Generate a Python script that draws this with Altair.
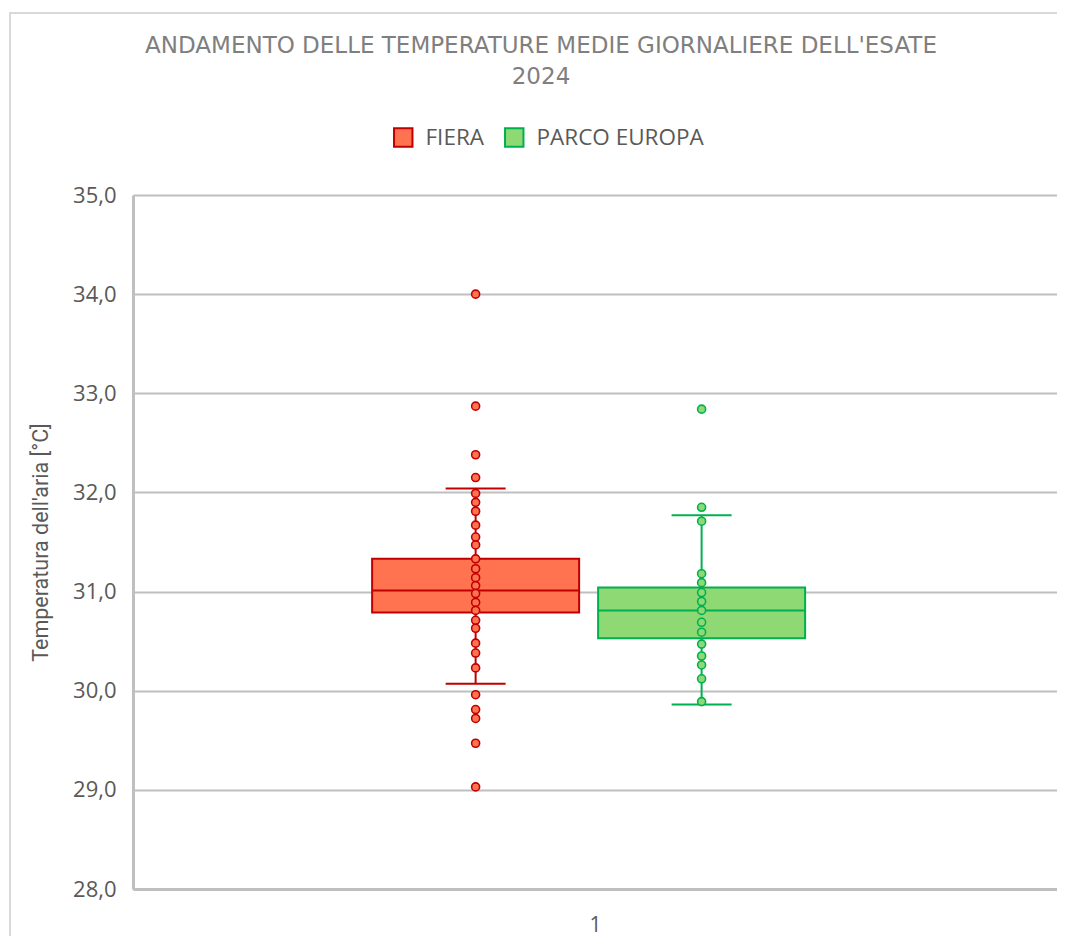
import altair as alt
import pandas as pd

# ---- data ----
series = ["FIERA", "PARCO EUROPA"]
fill_colors = ["#FF7350", "#8ED973"]
stroke_colors = ["#C00000", "#00B050"]

q1 = [30.79, 30.53]
median = [31.01, 30.81]
q3 = [31.33, 31.04]
whisker_low = [30.07, 29.86]
whisker_high = [32.04, 31.77]

fiera_points = [34.00, 32.87, 32.38, 32.15, 31.99, 31.90, 31.81, 31.67, 31.55,
                31.47, 31.33, 31.23, 31.14, 31.06, 30.98, 30.89, 30.81, 30.71,
                30.63, 30.48, 30.38, 30.23, 29.96, 29.81, 29.72, 29.47, 29.03]
parco_points = [32.84, 31.85, 31.71, 31.18, 31.09, 30.99, 30.90, 30.81, 30.69,
                30.59, 30.47, 30.35, 30.26, 30.12, 29.89]

category = "1"
y_ticks = [28, 29, 30, 31, 32, 33, 34, 35]

stats = pd.DataFrame({
    "cat": [category] * 2,
    "series": series,
    "q1": q1, "median": median, "q3": q3,
    "wlo": whisker_low, "whi": whisker_high,
})
pts = pd.DataFrame({
    "cat": [category] * (len(fiera_points) + len(parco_points)),
    "series": ["FIERA"] * len(fiera_points) + ["PARCO EUROPA"] * len(parco_points),
    "value": fiera_points + parco_points,
})

W, H = 924, 694
BOX_W = 207

x_enc = alt.X("cat:N", scale=alt.Scale(domain=[category], paddingInner=0,
                                        paddingOuter=0.567, align=0.487),
              axis=alt.Axis(title=None, labelAngle=0, ticks=False, domain=True,
                            domainColor="#BFBFBF", domainWidth=3,
                            labelFont="Open Sans", labelFontSize=21,
                            labelColor="#595959", labelPadding=25, labelOffset=7,
                            grid=False))
xo_enc = alt.XOffset("series:N", scale=alt.Scale(domain=series, paddingInner=0.084,
                                                 paddingOuter=0))
fill_scale = alt.Scale(domain=series, range=fill_colors)
stroke_scale = alt.Scale(domain=series, range=stroke_colors)

y_scale = alt.Scale(domain=[28, 35], nice=False, zero=False)
y_axis = alt.Axis(title="Temperatura dell'aria [°C]", values=y_ticks,
                  labelExpr="replace(format(datum.value, '.1f'), '.', ',')",
                  ticks=False, domain=True, domainColor="#BFBFBF", domainWidth=3,
                  grid=True, gridColor="#BFBFBF", gridWidth=2,
                  labelFont="Open Sans", labelFontSize=22, labelColor="#595959",
                  labelPadding=17, titleFont="Roboto", titleFontSize=21.5,
                  titleFontWeight="normal", titleColor="#595959", titlePadding=20)

base = alt.Chart(stats)

box = base.mark_bar(strokeWidth=2, opacity=1).encode(
    x=x_enc, xOffset=xo_enc,
    y=alt.Y("q1:Q", scale=y_scale, axis=y_axis),
    y2="q3:Q",
    fill=alt.Fill("series:N", scale=fill_scale,
                  legend=alt.Legend(title=None, orient="none", direction="horizontal",
                                    legendX=259, legendY=-69, symbolType="square",
                                    symbolSize=340, symbolStrokeWidth=2,
                                    labelFont="Open Sans", labelFontSize=22.5,
                                    labelColor="#595959", labelOffset=11,
                                    labelLimit=400, columnPadding=16, padding=0)),
    stroke=alt.Stroke("series:N", scale=stroke_scale, legend=None),
)

upper = base.mark_rule(strokeWidth=2).encode(
    x=x_enc, xOffset=xo_enc, y=alt.Y("q3:Q", scale=y_scale), y2="whi:Q",
    stroke=alt.Stroke("series:N", scale=stroke_scale, legend=None))
lower = base.mark_rule(strokeWidth=2).encode(
    x=x_enc, xOffset=xo_enc, y=alt.Y("wlo:Q", scale=y_scale), y2="q1:Q",
    stroke=alt.Stroke("series:N", scale=stroke_scale, legend=None))
cap_hi = base.mark_tick(size=60, thickness=2, opacity=1).encode(
    x=x_enc, xOffset=xo_enc, y=alt.Y("whi:Q", scale=y_scale),
    color=alt.Color("series:N", scale=stroke_scale, legend=None))
cap_lo = base.mark_tick(size=60, thickness=2, opacity=1).encode(
    x=x_enc, xOffset=xo_enc, y=alt.Y("wlo:Q", scale=y_scale),
    color=alt.Color("series:N", scale=stroke_scale, legend=None))
med = base.mark_tick(size=BOX_W, thickness=2, opacity=1).encode(
    x=x_enc, xOffset=xo_enc, y=alt.Y("median:Q", scale=y_scale),
    color=alt.Color("series:N", scale=stroke_scale, legend=None))

dots = alt.Chart(pts).mark_circle(size=64, strokeWidth=1.6, opacity=1).encode(
    x=x_enc, xOffset=xo_enc, y=alt.Y("value:Q", scale=y_scale),
    fill=alt.Fill("series:N", scale=fill_scale, legend=None),
    stroke=alt.Stroke("series:N", scale=stroke_scale, legend=None))

frame = alt.Chart(stats).mark_rect(fill=None, stroke="#D9D9D9", strokeWidth=2).encode(
    x=alt.value(-123), x2=alt.value(W + 20), y=alt.value(-182), y2=alt.value(H + 70))

chart = alt.layer(frame, box, upper, lower, cap_hi, cap_lo, med, dots).properties(
    width=W, height=H,
    autosize=alt.AutoSizeParams(type="none"),
    padding={"left": 125, "top": 187, "right": 0, "bottom": 47},
    title=alt.Title(["ANDAMENTO DELLE TEMPERATURE MEDIE GIORNALIERE DELL'ESATE", "2024"],
                    font="DejaVu Sans", fontSize=23, fontWeight="normal", color="#7F7F7F",
                    anchor="middle", dx=-54, offset=-77, lineHeight=31),
).configure_view(stroke=None).configure(background="white")

chart.save("out.html", embed_options={"renderer": "svg", "actions": False})
